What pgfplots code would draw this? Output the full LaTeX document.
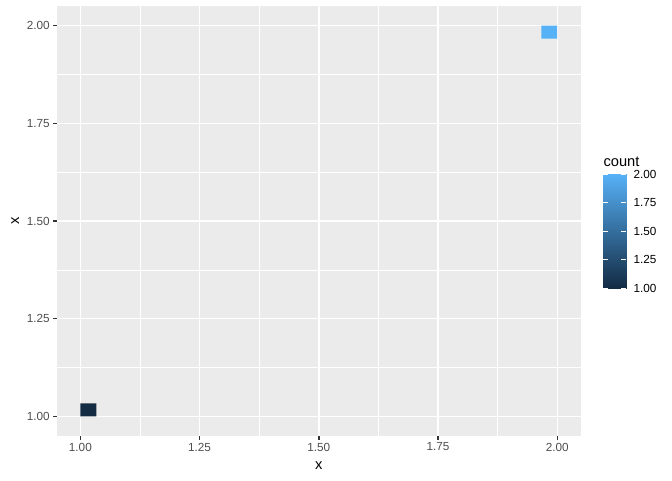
\documentclass[border=0pt]{standalone}
\usepackage{pgfplots}
\pgfplotsset{compat=1.18}
\usepackage{fontspec}
\setmainfont{Liberation Sans}
\definecolor{panelbg}{HTML}{EBEBEB}
\definecolor{grey30}{HTML}{4D4D4D}
\definecolor{grey20}{HTML}{333333}
\definecolor{lowc}{HTML}{132B43}
\definecolor{highc}{HTML}{56B1F7}
\begin{document}
\begin{tikzpicture}
\begin{axis}[
  name=main,
  scale only axis,
  width=393.4pt, height=322.5pt,
  xmin=0.95, xmax=2.05, ymin=0.95, ymax=2.05,
  xtick={1,1.25,1.5,1.75,2}, ytick={1,1.25,1.5,1.75,2},
  minor xtick={1.125,1.375,1.625,1.875},
  minor ytick={1.125,1.375,1.625,1.875},
  minor tick length=0pt,
  grid=both,
  major grid style={draw=white, line width=1.07pt},
  minor grid style={draw=white, line width=0.53pt},
  axis background/.style={fill=panelbg},
  axis line style={draw=none},
  tick align=outside,
  major tick length=2.75pt,
  tick style={draw=grey20, line width=1.07pt},
  xtick pos=bottom, ytick pos=left,
  /pgf/number format/assume math mode=true,
  /pgf/number format/fixed,
  /pgf/number format/fixed zerofill,
  /pgf/number format/precision=2,
  ticklabel style={font=\fontsize{8.8pt}{10pt}\selectfont, text=grey30},
  xticklabel style={inner sep=0pt, yshift=-2.2pt},
  yticklabel style={inner sep=0pt, xshift=-2.2pt},
  xlabel={x}, ylabel={x},
  label style={font=\fontsize{11pt}{13pt}\selectfont},
  xlabel style={at={(axis description cs:0.5,0)}, anchor=base, yshift=-24.75pt},
  ylabel style={at={(axis description cs:0,0.5)}, anchor=base, yshift=28pt},
]
\addplot[fill=lowc, draw=none] coordinates {(1,1) (1.03333,1) (1.03333,1.03333) (1,1.03333) (1,1)};
\addplot[fill=highc, draw=none] coordinates {(1.96667,1.96667) (2,1.96667) (2,2) (1.96667,2) (1.96667,1.96667)};
\coordinate (sw) at (rel axis cs:0,0);
\end{axis}
\begin{axis}[
  at={(main.south east)}, anchor=south west,
  xshift=16.7pt, yshift=110.8pt,
  scale only axis,
  width=17pt, height=85.5pt,
  xmin=0, xmax=1, ymin=1, ymax=2,
  xtick=\empty,
  ytick={1,1.25,1.5,1.75,2},
  axis on top,
  axis line style={draw=none},
  tick align=inside,
  ytick pos=both,
  yticklabel pos=right,
  major tick length=3.4pt,
  tick style={draw=white, line width=0.8pt},
  colormap={gg}{rgb255=(19,43,67) rgb255=(86,177,247)},
  point meta min=1, point meta max=2,
  /pgf/number format/assume math mode=true,
  /pgf/number format/fixed,
  /pgf/number format/fixed zerofill,
  /pgf/number format/precision=2,
  yticklabel style={font=\fontsize{8.8pt}{10pt}\selectfont, text=black, inner sep=0pt, anchor=west, xshift=5.5pt},
  title={count},
  title style={font=\fontsize{11pt}{13pt}\selectfont, at={(0,1)}, anchor=base west, inner sep=0pt, yshift=-0.5pt},
]
\addplot[surf, shader=interp, point meta=y] coordinates {
(0,1) (1,1)

(0,2) (1,2)
};
\end{axis}
\pgfresetboundingbox
\path ([shift={(-42.4pt,-33pt)}]sw) rectangle ++(504pt,360pt);
\end{tikzpicture}
\end{document}
